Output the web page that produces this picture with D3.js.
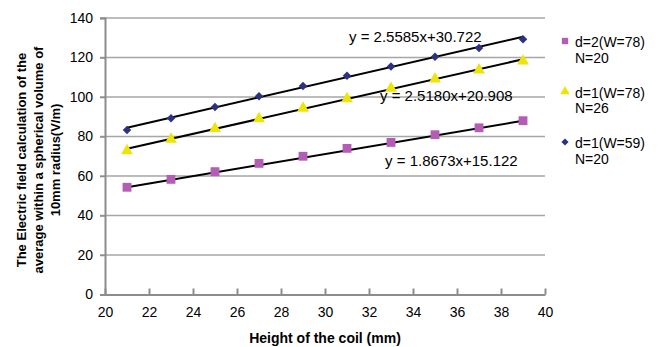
<!DOCTYPE html>
<html>
<head>
<meta charset="utf-8">
<script src="https://cdn.jsdelivr.net/npm/d3@7"></script>
<style>
  body { margin: 0; background: #fff; }
  text { font-family: "Liberation Sans", Arial, sans-serif; fill: #000; }
</style>
</head>
<body>
<div id="chart"></div>
<script>
// coil heights (mm)
var heights = [21, 23, 25, 27, 29, 31, 33, 35, 37, 39]
// field values (V/m)
var d2W78 = [54.3, 58.3, 62.2, 66.4, 70.0, 74.0, 77.0, 80.9, 84.4, 88.0]
var d1W78 = [72.8, 78.6, 84.0, 89.0, 94.3, 99.1, 104.4, 109.1, 113.7, 118.2]
var d1W59 = [83.3, 89.2, 94.9, 100.4, 105.6, 110.8, 115.5, 120.4, 124.8, 129.2]

var seriesNames = ["d=2(W=78)", "d=1(W=78)", "d=1(W=59)"]
var seriesN = ["N=20", "N=26", "N=20"]
var slopes = [1.8673, 2.5180, 2.5585]
var intercepts = [15.122, 20.908, 30.722]
var eqLabels = ["y = 1.8673x+15.122", "y = 2.5180x+20.908", "y = 2.5585x+30.722"]

var xTicks = [20, 22, 24, 26, 28, 30, 32, 34, 36, 38, 40]
var yTicks = [0, 20, 40, 60, 80, 100, 120, 140]

var width = 660, height = 347
var margin = { top: 18, left: 105, right: 115, bottom: 52.5 }
var plotW = width - margin.left - margin.right,
    plotH = height - margin.top - margin.bottom

var svg = d3.select("#chart")
  .append("svg")
  .attr("width", width)
  .attr("height", height)

var g = svg.append("g")
  .attr("transform", "translate(" + margin.left + "," + margin.top + ")")

var x = d3.scaleLinear().domain([20, 40]).range([0, plotW])
var y = d3.scaleLinear().domain([0, 140]).range([plotH, 0])

// gridlines
g.selectAll(".grid")
  .data(yTicks.filter(d => d > 0))
  .enter().append("line")
  .attr("x1", -5).attr("x2", plotW)
  .attr("y1", d => y(d)).attr("y2", d => y(d))
  .attr("stroke", "#a6a6a6")
  .attr("stroke-width", 1.3)

// y axis
var yAxis = g.append("g")
  .call(d3.axisLeft(y).tickValues(yTicks).tickSize(5).tickPadding(7))
yAxis.select(".domain").attr("stroke", "#8c8c8c").attr("stroke-width", 2)
yAxis.selectAll(".tick line").attr("stroke", "#8c8c8c").attr("stroke-width", 1.5)
yAxis.selectAll("text").style("font-size", "14px").style("font-family", "Liberation Sans, Arial, sans-serif").attr("fill", "#000")

// x axis, ticks point inward
var xAxis = g.append("g")
  .attr("transform", "translate(0," + plotH + ")")
  .call(d3.axisBottom(x).tickValues(xTicks).tickSizeInner(-6).tickSizeOuter(0).tickPadding(13))
xAxis.select(".domain").attr("stroke", "#8c8c8c").attr("stroke-width", 2)
xAxis.selectAll(".tick line").attr("stroke", "#8c8c8c").attr("stroke-width", 2)
xAxis.selectAll("text").style("font-size", "14px").style("font-family", "Liberation Sans, Arial, sans-serif").attr("fill", "#000")

// trend lines
var trendX = [d3.min(heights), d3.max(heights)]
g.selectAll(".trend")
  .data(slopes)
  .enter().append("line")
  .attr("x1", x(trendX[0]))
  .attr("x2", x(trendX[1]))
  .attr("y1", (s, i) => y(s * trendX[0] + intercepts[i]))
  .attr("y2", (s, i) => y(s * trendX[1] + intercepts[i]))
  .attr("stroke", "#000")
  .attr("stroke-width", 2)

var colors = ["#b35db5", "#ede40a", "#2b3282"]

// square diamond (rotated square), d3's own diamond is too tall here
var squareDiamond = {
  draw: function(ctx, size) {
    var r = Math.sqrt(size / 2)
    ctx.moveTo(0, -r); ctx.lineTo(r, 0); ctx.lineTo(0, r); ctx.lineTo(-r, 0); ctx.closePath()
  }
}
var symbols = [
  d3.symbol().type(d3.symbolSquare).size(78),
  d3.symbol().type(d3.symbolTriangle).size(62),
  d3.symbol().type(squareDiamond).size(36)
]
var allSeries = [d2W78, d1W78, d1W59]

allSeries.forEach(function(vals, si) {
  g.selectAll(".pt" + si)
    .data(vals)
    .enter().append("path")
    .attr("d", symbols[si])
    .attr("transform", (v, i) => "translate(" + x(heights[i]) + "," + y(v) + ")")
    .attr("fill", colors[si])
})

// equation labels (anchors in data units)
var eqPos = [[32.73, 67.6], [32.5, 100.5], [31.09, 130.4]]
g.selectAll(".eq")
  .data(eqLabels)
  .enter().append("text")
  .attr("x", (d, i) => x(eqPos[i][0]))
  .attr("y", (d, i) => y(eqPos[i][1]))
  .attr("dy", "0.35em")
  .style("font-size", "15px")
  .text(d => d)

// legend
var legendY = [41, 91.5, 142]
var legendSyms = [
  d3.symbol().type(d3.symbolSquare).size(40),
  d3.symbol().type(d3.symbolTriangle).size(40),
  d3.symbol().type(squareDiamond).size(26)
]
var legend = svg.append("g")
seriesNames.forEach(function(name, i) {
  legend.append("path")
    .attr("d", legendSyms[i])
    .attr("transform", "translate(565," + legendY[i] + ")")
    .attr("fill", colors[i])
  legend.append("text")
    .attr("x", 575).attr("y", legendY[i] + 1.5)
    .attr("dy", "0.35em")
    .style("font-size", "14px")
    .text(name)
  legend.append("text")
    .attr("x", 575).attr("y", legendY[i] + 17)
    .attr("dy", "0.35em")
    .style("font-size", "14px")
    .text(seriesN[i])
})

// axis titles
svg.append("text")
  .attr("x", margin.left + plotW / 2)
  .attr("y", 338)
  .attr("dy", "0.35em")
  .attr("text-anchor", "middle")
  .style("font-size", "14px")
  .style("font-weight", "bold")
  .text("Height of the coil (mm)")

var yTitle = ["The Electric field calculation of the", "average within a spherical volume of", "10mm radius(V/m)"]
var yTitleX = [21, 38.5, 55.5]
yTitle.forEach(function(t, i) {
  svg.append("text")
    .attr("transform", "translate(" + yTitleX[i] + ",160) rotate(-90)")
    .attr("text-anchor", "middle")
    .attr("dy", "0.35em")
    .style("font-size", "13px")
    .style("font-weight", "bold")
    .text(t)
})
</script>
</body>
</html>
